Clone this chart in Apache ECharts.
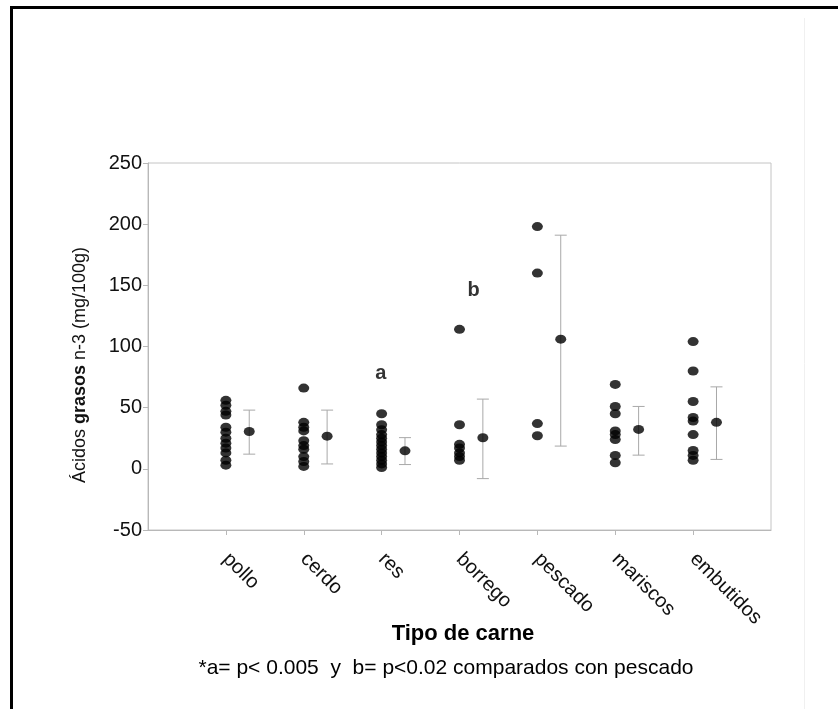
<!DOCTYPE html>
<html>
<head>
<meta charset="utf-8">
<script src="https://cdn.jsdelivr.net/npm/echarts@6/dist/echarts.min.js"></script>
<style>
  html, body { margin: 0; padding: 0; background: #fff; }
  #main { width: 838px; height: 709px; }
</style>
</head>
<body>
<div id="main"></div>
<script>
// categories on the x axis (placed at 1..7)
var categories = ['pollo', 'cerdo', 'res', 'borrego', 'pescado', 'mariscos', 'embutidos'];

// individual values per meat type (mg/100g)
var polloValues = [56, 52, 47, 44, 34, 30, 25, 21, 17, 13, 7, 3];
var cerdoValues = [66, 38, 34, 31, 23, 19, 16, 10, 6, 2];
var resValues = [45, 36, 32, 28, 25, 22, 19, 16, 13, 10, 7, 4, 1];
var borregoValues = [114, 36, 20, 17, 13, 10, 7];
var pescadoValues = [198, 160, 37, 27];
var mariscosValues = [69, 51, 45, 31, 28, 24, 11, 5];
var embutidosValues = [104, 80, 55, 42, 39, 28, 15, 11, 7];

// mean and error bar limits per category
var means = [30.5, 26.7, 14.7, 25.4, 106, 32.2, 38];
var lower = [12, 4, 3.5, -8, 18.6, 11.2, 7.7];
var upper = [48, 48, 25.5, 57, 191, 51, 67];

// significance letters
var letters = ['a', 'b'];
var letterX = [2.99, 4.18];
var letterY = [78, 146];

var yTicks = [-50, 0, 50, 100, 150, 200, 250];

var groups = [polloValues, cerdoValues, resValues, borregoValues, pescadoValues, mariscosValues, embutidosValues];
var MEAN_SHIFT = 0.3;

var dotData = [];
groups.forEach(function (vals, i) {
    vals.forEach(function (v) { dotData.push([i + 1, v]); });
});
var meanData = means.map(function (m, i) { return [i + 1 + MEAN_SHIFT, m]; });
var errData = means.map(function (m, i) { return [i + 1 + MEAN_SHIFT, lower[i], upper[i]]; });
var letterData = letters.map(function (t, i) { return { value: [letterX[i], letterY[i]], name: t }; });

var FONT = 'Liberation Sans, Arial, sans-serif';

var myChart = echarts.init(document.getElementById('main'));

var option = {
    animation: false,
    backgroundColor: '#fff',
    grid: {
        left: 148, right: 67, top: 163, bottom: 179,
        show: true, borderColor: '#c4c4c4', borderWidth: 1
    },
    xAxis: {
        type: 'value',
        min: 0, max: 8, interval: 1,
        axisLine: { onZero: false, lineStyle: { color: '#b8b8b8' } },
        axisTick: { show: true, length: 5, lineStyle: { color: '#b8b8b8' } },
        splitLine: { show: false },
        axisLabel: {
            rotate: -45,
            margin: 26,
            fontFamily: FONT,
            fontSize: 20,
            color: '#111',
            showMinLabel: false,
            showMaxLabel: false,
            formatter: function (v) { return categories[v - 1] || ''; }
        }
    },
    yAxis: {
        type: 'value',
        min: yTicks[0], max: yTicks[yTicks.length - 1], interval: 50,
        axisLine: { show: true, onZero: false, lineStyle: { color: '#b8b8b8' } },
        axisTick: { show: true, length: 5, lineStyle: { color: '#b8b8b8' } },
        splitLine: { show: false },
        axisLabel: {
            margin: 6,
            fontFamily: FONT,
            fontSize: 20,
            color: '#111'
        }
    },
    graphic: [
        { type: 'line', shape: { x1: 10, y1: 7.5, x2: 838, y2: 7.5 }, style: { stroke: '#000', lineWidth: 3 } },
        { type: 'line', shape: { x1: 11.5, y1: 6, x2: 11.5, y2: 709 }, style: { stroke: '#000', lineWidth: 3 } },
        { type: 'line', shape: { x1: 804.5, y1: 18, x2: 804.5, y2: 709 }, style: { stroke: '#f0f0f0', lineWidth: 1 } },
        {
            type: 'text', x: 80, y: 365, rotation: Math.PI / 2,
            style: {
                text: '{n|Ácidos }{b|grasos}{n| n-3 (mg/100g)}',
                align: 'center', verticalAlign: 'middle',
                rich: {
                    n: { fontFamily: FONT, fontSize: 18, fill: '#111' },
                    b: { fontFamily: FONT, fontSize: 18, fontWeight: 'bold', fill: '#111' }
                }
            }
        },
        {
            type: 'text', x: 463, y: 634,
            style: {
                text: 'Tipo de carne', align: 'center', verticalAlign: 'middle',
                fontFamily: FONT, fontSize: 22, fontWeight: 'bold', fill: '#000'
            }
        },
        {
            type: 'text', x: 446, y: 668,
            style: {
                text: '*a= p< 0.005  y  b= p<0.02 comparados con pescado', align: 'center', verticalAlign: 'middle',
                fontFamily: FONT, fontSize: 21, fill: '#000'
            }
        }
    ],
    series: [
        {
            name: 'valores',
            type: 'scatter',
            symbol: 'circle',
            symbolSize: [11, 9],
            itemStyle: { color: '#000' },
            data: dotData,
            z: 3
        },
        {
            name: 'error',
            type: 'custom',
            data: errData,
            z: 2,
            renderItem: function (params, api) {
                var x = api.value(0);
                var lo = api.coord([x, api.value(1)]);
                var hi = api.coord([x, api.value(2)]);
                var w = 6;
                var st = { stroke: '#a8a8a8', lineWidth: 1 };
                return {
                    type: 'group',
                    children: [
                        { type: 'line', shape: { x1: hi[0], y1: hi[1], x2: lo[0], y2: lo[1] }, style: st },
                        { type: 'line', shape: { x1: hi[0] - w, y1: hi[1], x2: hi[0] + w, y2: hi[1] }, style: st },
                        { type: 'line', shape: { x1: lo[0] - w, y1: lo[1], x2: lo[0] + w, y2: lo[1] }, style: st }
                    ]
                };
            }
        },
        {
            name: 'media',
            type: 'scatter',
            symbol: 'circle',
            symbolSize: [11, 9],
            itemStyle: { color: '#000' },
            data: meanData,
            z: 4
        },
        {
            name: 'letras',
            type: 'scatter',
            symbolSize: 0,
            data: letterData,
            label: {
                show: true, position: 'inside',
                formatter: function (p) { return p.name; },
                fontFamily: FONT,
                fontSize: 20, fontWeight: 'bold', color: '#000'
            }
        }
    ]
};

myChart.setOption(option);
</script>
</body>
</html>
